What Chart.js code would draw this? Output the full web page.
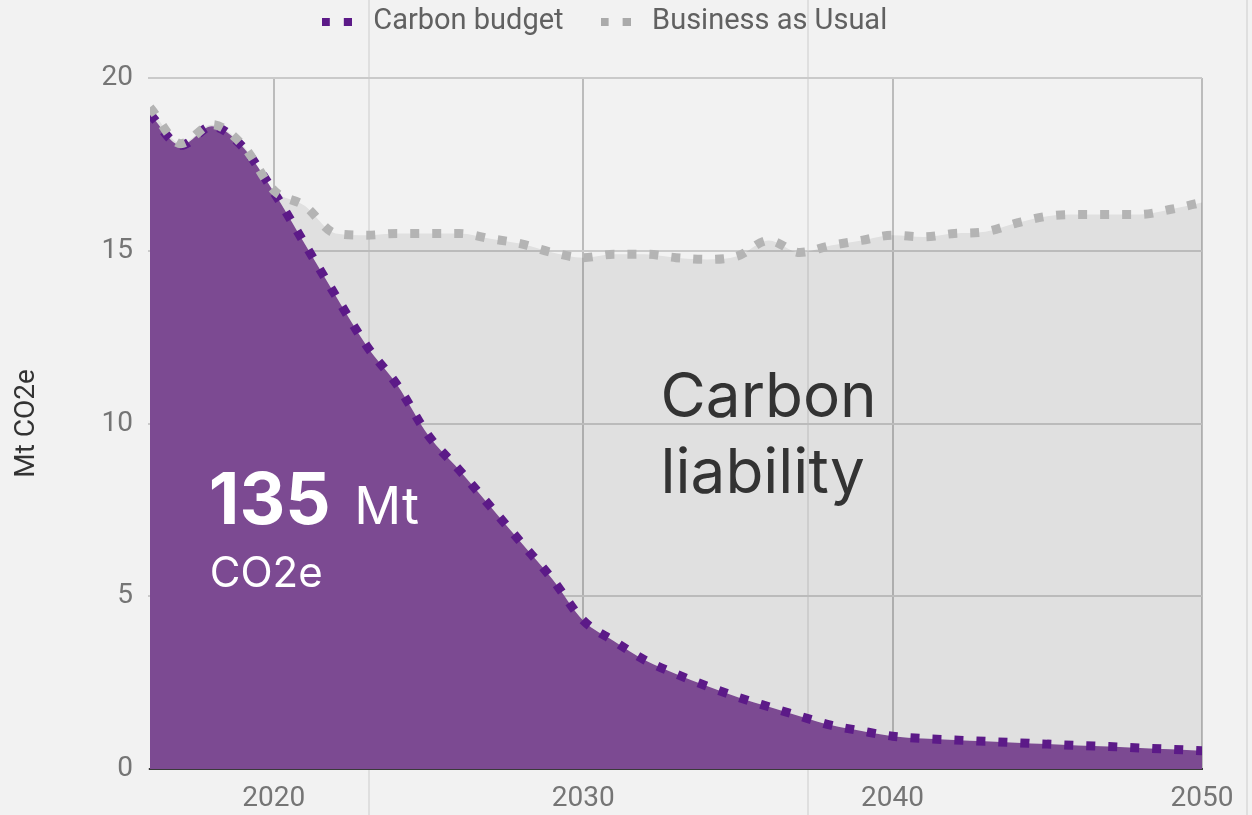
<!DOCTYPE html>
<html>
<head>
<meta charset="utf-8">
<script src="https://cdn.jsdelivr.net/npm/chart.js@4.4.1/dist/chart.umd.min.js"></script>
<style>
  body { margin: 0; background: #f2f2f2; }
  #wrap { width: 1252px; height: 815px; position: relative; }
</style>
</head>
<body>
<div id="wrap"><canvas id="carbonChart"></canvas></div>
<script>
// yearly values, Mt CO2e
const years = [2016, 2017, 2018, 2019, 2020, 2021, 2022, 2023, 2024, 2025,
  2026, 2027, 2028, 2029, 2030, 2031, 2032, 2033, 2034, 2035,
  2036, 2037, 2038, 2039, 2040, 2041, 2042, 2043, 2044, 2045,
  2046, 2047, 2048, 2049, 2050];

const businessAsUsual = [19.15, 18.1, 18.65, 18.05, 16.75, 16.3, 15.5, 15.45, 15.5, 15.5,
  15.5, 15.35, 15.2, 14.95, 14.8, 14.9, 14.9, 14.8, 14.75, 14.85,
  15.3, 14.95, 15.15, 15.3, 15.45, 15.4, 15.5, 15.55, 15.8, 16.0,
  16.05, 16.05, 16.05, 16.2, 16.4];

const carbonBudget = [18.95, 18.05, 18.6, 18.0, 16.7, 15.2, 13.7, 12.25, 11.1, 9.65,
  8.65, 7.6, 6.55, 5.5, 4.3, 3.7, 3.15, 2.75, 2.4, 2.08,
  1.8, 1.53, 1.27, 1.1, 0.95, 0.88, 0.84, 0.8, 0.76, 0.72,
  0.68, 0.65, 0.61, 0.57, 0.53];

const xTicks = [2020, 2030, 2040, 2050];
const yTicks = [0, 5, 10, 15, 20];

const PURPLE_LINE = '#5c1a88';
const PURPLE_FILL = '#7c4a92';
const GREY_LINE = '#b4b4b4';

// two little squares, like the dotted line
function legendSquares(color) {
  const c = document.createElement('canvas');
  c.width = 30; c.height = 8;
  const g = c.getContext('2d');
  g.fillStyle = color;
  g.fillRect(0, 0, 8, 8);
  g.fillRect(22, 0, 8, 8);
  return c;
}
const legendIcons = [legendSquares('#aaaaaa'), legendSquares(PURPLE_LINE)];

// faint separator lines behind the chart
const separators = {
  id: 'separators',
  beforeDraw(chart) {
    const ctx = chart.ctx;
    ctx.save();
    ctx.strokeStyle = '#d8d8d8';
    ctx.lineWidth = 1.5;
    [369, 808, 1247].forEach(px => {
      ctx.beginPath();
      ctx.moveTo(px, 0);
      ctx.lineTo(px, chart.height);
      ctx.stroke();
    });
    ctx.restore();
  }
};

// text inside the chart
const notes = [
  { text: '135', x: 2017.9, y: 7.09, font: '700 71px Inter', color: '#ffffff' },
  { text: 'Mt', x: 2022.6, y: 7.09, font: '400 52px Inter', color: '#ffffff' },
  { text: 'CO2e', x: 2017.93, y: 5.27, font: '400 42px Inter', color: '#ffffff' },
  { text: 'Carbon', x: 2032.5, y: 10.19, font: '400 62px Inter', color: '#333333' },
  { text: 'liability', x: 2032.5, y: 7.99, font: '400 62px Inter', color: '#333333' }
];
const noteText = {
  id: 'noteText',
  afterDatasetsDraw(chart) {
    const ctx = chart.ctx;
    const xs = chart.scales.x, ys = chart.scales.y;
    ctx.save();
    ctx.textAlign = 'left';
    ctx.textBaseline = 'alphabetic';
    notes.forEach(n => {
      ctx.font = n.font;
      ctx.fillStyle = n.color;
      ctx.fillText(n.text, xs.getPixelForValue(n.x), ys.getPixelForValue(n.y));
    });
    ctx.restore();
  }
};

const ctx = document.getElementById('carbonChart').getContext('2d');

new Chart(ctx, {
  type: 'line',
  data: {
    datasets: [{
      label: 'Business as Usual',
      data: years.map((yr, i) => ({ x: yr, y: businessAsUsual[i] })),
      borderColor: GREY_LINE,
      borderWidth: 9,
      borderDash: [9, 13],
      borderCapStyle: 'butt',
      backgroundColor: 'rgba(0,0,0,0.075)',
      fill: 1,
      pointRadius: 0,
      cubicInterpolationMode: 'monotone'
    }, {
      label: 'Carbon budget',
      data: years.map((yr, i) => ({ x: yr, y: carbonBudget[i] })),
      borderColor: PURPLE_LINE,
      borderWidth: 9,
      borderDash: [9, 13],
      borderCapStyle: 'butt',
      backgroundColor: PURPLE_FILL,
      fill: 'origin',
      pointRadius: 0,
      cubicInterpolationMode: 'monotone'
    }]
  },
  options: {
    responsive: true,
    maintainAspectRatio: false,
    animation: false,
    layout: { padding: { top: -23, left: 0, right: 50, bottom: 0 } },
    plugins: {
      filler: { drawTime: 'beforeDatasetsDraw' },
      tooltip: { enabled: false },
      title: {
        // empty spacer between legend and plot
        display: true, text: '', weight: 500,
        padding: { top: 31, bottom: 0 },
        font: { size: 1, lineHeight: 1 }
      },
      legend: {
        position: 'top',
        reverse: true,
        labels: {
          usePointStyle: true,
          pointStyleWidth: 44,
          padding: 30,
          color: '#616161',
          font: { family: 'Roboto', size: 29 },
          generateLabels(chart) {
            const items = Chart.defaults.plugins.legend.labels.generateLabels(chart);
            items.forEach(it => { it.pointStyle = legendIcons[it.datasetIndex]; });
            return items;
          }
        }
      }
    },
    scales: {
      x: {
        type: 'linear',
        min: 2016,
        max: 2050,
        afterBuildTicks(s) { s.ticks = xTicks.map(v => ({ value: v })); },
        afterFit(s) { s.height = 46; },
        grid: { color: '#bcbcbc', lineWidth: 2, tickLength: 0 },
        border: { display: true, color: '#3a3a3a', width: 2 },
        ticks: {
          padding: 13,
          color: '#757575',
          font: { family: 'Roboto', size: 28 },
          maxRotation: 0,
          callback: v => String(v)
        }
      },
      y: {
        min: 0,
        max: 20,
        afterBuildTicks(s) { s.ticks = yTicks.map(v => ({ value: v })); },
        afterFit(s) { s.width = 150; },
        grid: { color: '#cacaca', lineWidth: 2, tickLength: 2 },
        border: { display: false },
        ticks: {
          padding: 15,
          color: '#757575',
          font: { family: 'Roboto', size: 28 }
        },
        title: {
          display: true,
          text: 'Mt CO2e',
          color: '#333333',
          font: { family: 'Roboto', size: 28 },
          padding: { top: 10, bottom: 0 }
        }
      }
    }
  },
  plugins: [separators, noteText]
});
</script>
</body>
</html>
